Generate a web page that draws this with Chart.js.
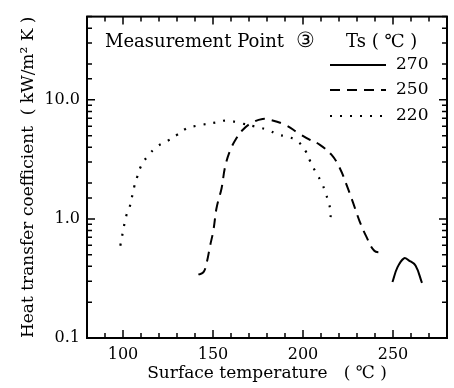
<!DOCTYPE html>
<html>
<head>
<meta charset="utf-8">
<script src="https://cdn.jsdelivr.net/npm/chart.js@4"></script>
<style>
  html, body { margin: 0; padding: 0; background: #fff; }
  #wrap { width: 454px; height: 388px; }
</style>
</head>
<body>
<div id="wrap"><canvas id="htcChart" width="454" height="388"></canvas></div>
<script>
// Ts = 270 °C (solid)
const ts270X = [249.7, 252.4, 256.1, 258.9, 262.5, 266.1];
const ts270Y = [0.295, 0.39, 0.467, 0.447, 0.406, 0.29];
// Ts = 250 °C (dashed)
const ts250X = [141.9, 144.7, 146.5, 148.4, 150.2, 152, 154.8, 156.6, 159.3, 163, 166.6, 171.1, 177.5, 182, 190.2, 197.5, 203.9, 209.4, 215.8, 220.4, 224.1, 227.8, 231.4, 235, 239.6, 243.3];
const ts250Y = [0.34, 0.357, 0.43, 0.596, 0.8, 1.24, 1.82, 2.68, 3.69, 4.76, 5.6, 6.35, 6.9, 6.78, 6.16, 5.25, 4.61, 4.19, 3.46, 2.68, 1.95, 1.37, 0.96, 0.72, 0.54, 0.52];
// Ts = 220 °C (dotted)
const ts220X = [98.5, 101.8, 103.6, 106.3, 108, 110, 113.6, 119, 124.5, 130, 135.5, 141, 152, 157.4, 165.6, 173.8, 180.3, 185.8, 191.2, 196.7, 201.3, 204, 206.8, 210.4, 212.2, 214, 215.3, 215.3];
const ts220Y = [0.596, 1.06, 1.24, 1.88, 2.28, 2.77, 3.35, 4.06, 4.5, 5.08, 5.77, 6.06, 6.47, 6.7, 6.35, 5.95, 5.6, 5.13, 4.9, 4.53, 3.74, 3.05, 2.51, 2.01, 1.71, 1.41, 1.17, 1.0];

const xLabels = [100, 150, 200, 250];
const yLabels = [0.1, 1, 10];

const serif = '"DejaVu Serif", "Liberation Serif", serif';

function toPoints(xs, ys) {
    return xs.map((x, i) => ({ x: x, y: ys[i] }));
}

// frame, inward ticks and the inside legend
const framePlugin = {
    id: 'frame',
    afterDraw(chart) {
        const ctx = chart.ctx;
        const a = chart.chartArea;
        const xs = chart.scales.x, ys = chart.scales.y;
        ctx.save();
        ctx.strokeStyle = '#000';
        ctx.lineWidth = 2;
        ctx.strokeRect(a.left, a.top, a.right - a.left, a.bottom - a.top);

        ctx.lineWidth = 1.5;
        ctx.beginPath();
        xs.ticks.forEach(t => {
            const px = xs.getPixelForValue(t.value);
            const len = (t.value % 50 === 0) ? 8 : 5;
            ctx.moveTo(px, a.bottom); ctx.lineTo(px, a.bottom - len);
            ctx.moveTo(px, a.top); ctx.lineTo(px, a.top + len);
        });
        ys.ticks.forEach(t => {
            const py = ys.getPixelForValue(t.value);
            const major = yLabels.some(v => Math.abs(v - t.value) < 1e-9);
            const len = major ? 8 : 5;
            ctx.moveTo(a.left, py); ctx.lineTo(a.left + len, py);
            ctx.moveTo(a.right, py); ctx.lineTo(a.right - len, py);
        });
        ctx.stroke();

        // legend
        ctx.fillStyle = '#000';
        ctx.textBaseline = 'middle';
        ctx.textAlign = 'left';
        ctx.font = '18px ' + serif;
        ctx.fillText('Measurement Point', 105, 42);
        ctx.font = '21px ' + serif;
        ctx.fillText('\u2462', 296, 42);
        ctx.font = '18px ' + serif;
        ctx.fillText('Ts ( \u2103 )', 346, 42);
        ctx.font = '17px ' + serif;
        const rows = [65, 90, 116];
        chart.data.datasets.forEach((ds, i) => {
            ctx.save();
            ctx.lineWidth = ds.borderWidth;
            ctx.setLineDash(ds.borderDash || []);
            ctx.beginPath();
            ctx.moveTo(330, rows[i]);
            ctx.lineTo(386, rows[i]);
            ctx.stroke();
            ctx.restore();
            ctx.fillText(ds.label, 396, rows[i]);
        });
        ctx.restore();
    }
};

const ctx = document.getElementById('htcChart').getContext('2d');
const htcChart = new Chart(ctx, {
    type: 'line',
    data: {
        datasets: [
            { label: '270', data: toPoints(ts270X, ts270Y), borderColor: '#000', borderWidth: 2, pointRadius: 0, tension: 0.4, fill: false },
            { label: '250', data: toPoints(ts250X, ts250Y), borderColor: '#000', borderWidth: 2, borderDash: [10, 7], pointRadius: 0, tension: 0.4, fill: false },
            { label: '220', data: toPoints(ts220X, ts220Y), borderColor: '#000', borderWidth: 2.2, borderDash: [2, 8], pointRadius: 0, tension: 0.4, fill: false }
        ]
    },
    options: {
        responsive: false,
        animation: false,
        layout: { padding: { top: 13, right: 2, left: 0, bottom: 0 } },
        plugins: { legend: { display: false }, tooltip: { enabled: false } },
        scales: {
            x: {
                type: 'linear',
                min: 80, max: 280,
                grid: { display: false, drawTicks: false },
                border: { display: false },
                afterFit: s => { s.height = 50; },
                ticks: {
                    stepSize: 10,
                    autoSkip: false,
                    maxRotation: 0,
                    padding: 7,
                    color: '#000',
                    font: { family: serif, size: 16 },
                    callback: v => xLabels.includes(v) ? String(v) : ''
                },
                title: { display: true, text: 'Surface temperature   ( \u2103 )', color: '#000', font: { family: serif, size: 17 }, padding: { top: 3 } }
            },
            y: {
                type: 'logarithmic',
                min: 0.1, max: 50,
                grid: { display: false, drawTicks: false },
                border: { display: false },
                afterFit: s => { s.width = 87; },
                ticks: {
                    autoSkip: false,
                    padding: 7,
                    color: '#000',
                    font: { family: serif, size: 16 },
                    callback: v => {
                        const hit = yLabels.find(l => Math.abs(l - v) < 1e-9);
                        return hit !== undefined ? hit.toFixed(1) : '';
                    }
                },
                title: { display: true, text: 'Heat transfer coefficient  ( kW/m\u00b2 K )', color: '#000', font: { family: serif, size: 17 }, padding: { top: 18, bottom: 0 } }
            }
        }
    },
    plugins: [framePlugin]
});
</script>
</body>
</html>
